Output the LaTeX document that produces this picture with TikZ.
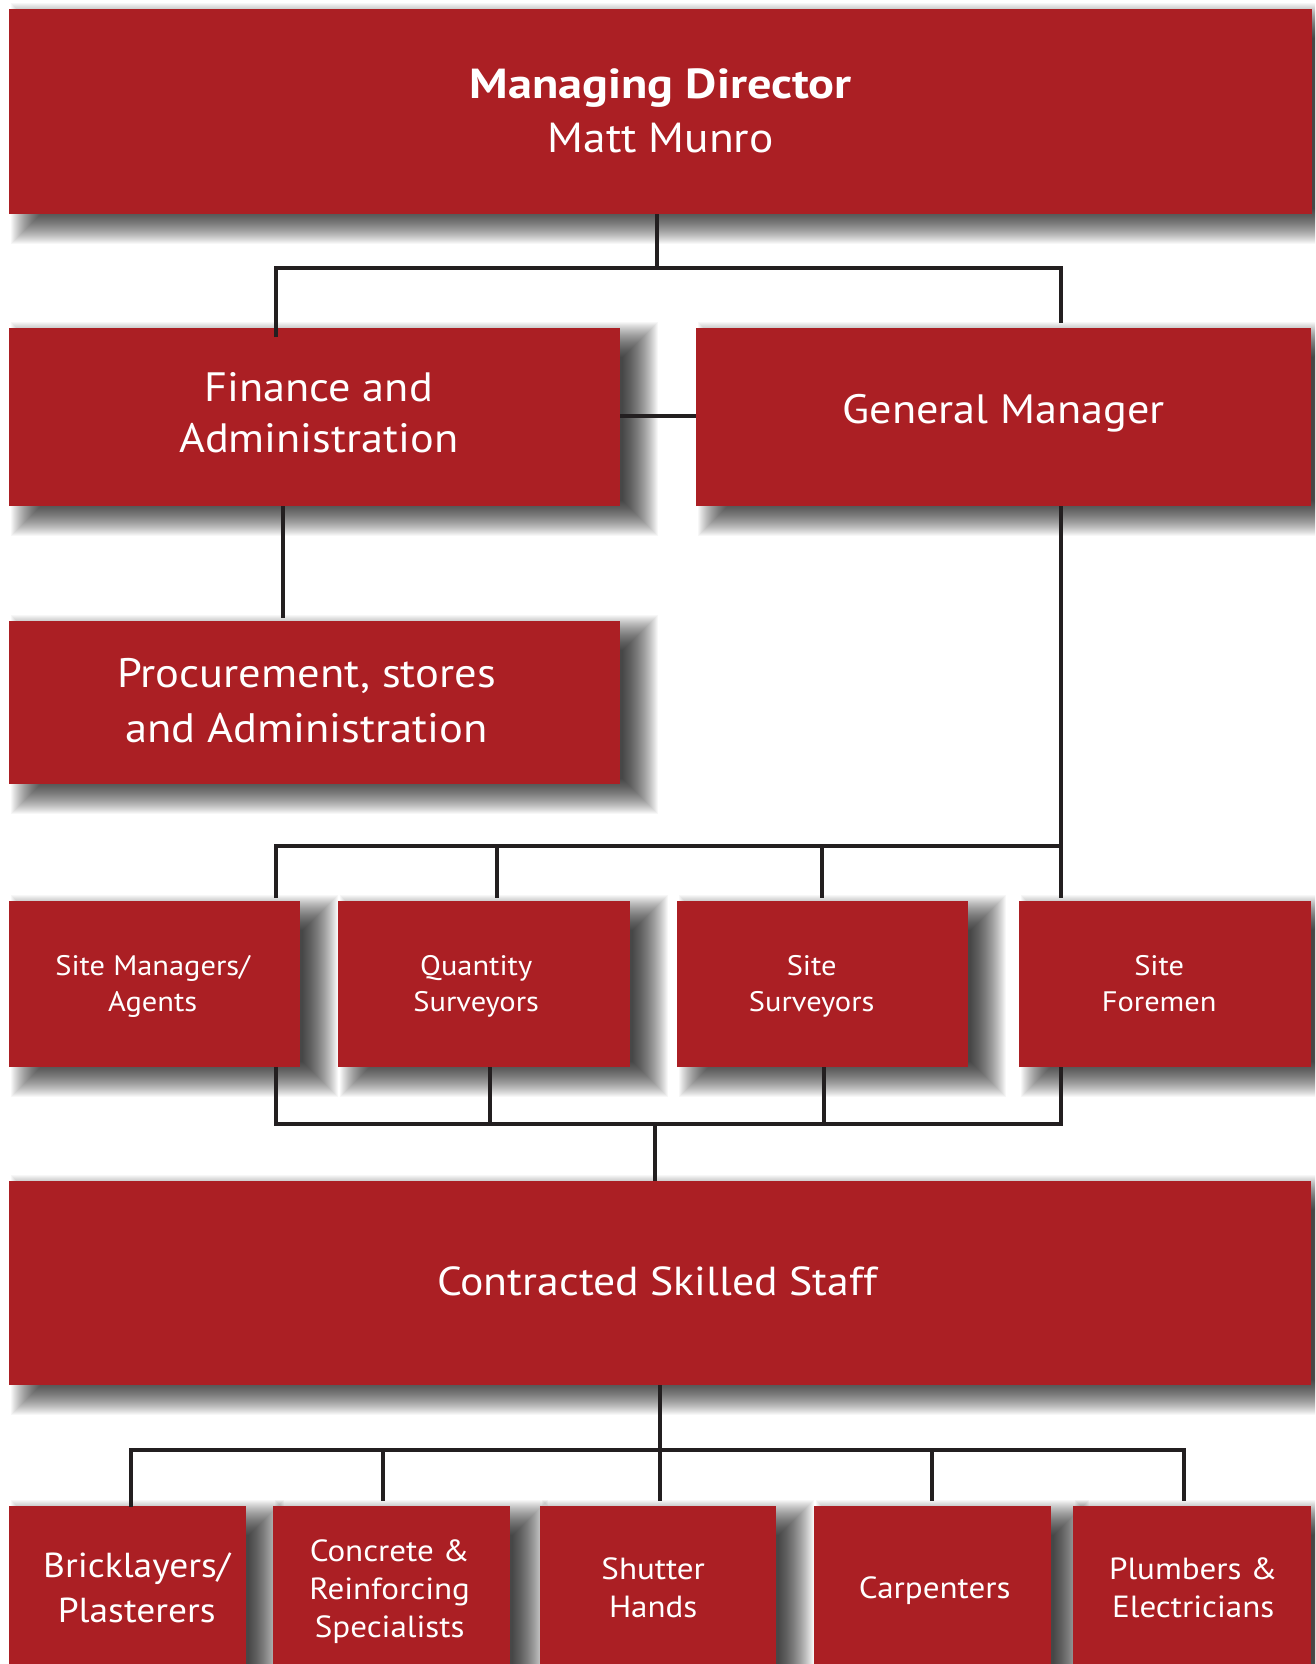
\documentclass[tikz,border=0pt]{standalone}
\usepackage{fontspec}
\setmainfont{PT Sans}[FakeStretch=1.08, BoldFeatures={FakeStretch=1.15}]
\usetikzlibrary{calc}
\pgfdeclarelayer{shadowlayer}
\pgfsetlayers{shadowlayer,main}
\definecolor{boxred}{RGB}{171,31,36}
\definecolor{linedark}{RGB}{35,31,32}
\begin{document}
\begin{tikzpicture}[x=1pt,y=-1pt,
  box/.style={fill=boxred, anchor=north west, inner sep=0pt},
  txt/.style={text=white, align=center, inner sep=0pt},
  conn/.style={draw=linedark, line width=4.6pt},
  shadowpiece/.style={fill=black, opacity=0.03},
  fMD/.style={txt, font=\fontsize{42}{54}\selectfont},
  fA/.style={txt, font=\fontsize{41}{51}\selectfont},
  fB/.style={txt, font=\fontsize{41.2}{55}\selectfont},
  fCS/.style={txt, font=\fontsize{40.5}{50}\selectfont},
  fC/.style={txt, font=\fontsize{28.2}{36}\selectfont},
  fD/.style={txt, font=\fontsize{30.6}{38}\selectfont},
  fE/.style={txt, font=\fontsize{34.7}{45}\selectfont}]
\useasboundingbox (0,0) rectangle (1315,1664);
% boxes
\node[box, minimum width=1303pt, minimum height=205pt,
  label={[fMD, yshift=-2.7pt]center:\strut\textbf{Managing Director}\\\strut Matt Munro}] (md) at (9,9) {};
\node[box, minimum width=611pt, minimum height=178pt,
  label={[fA, xshift=4pt]center:\strut Finance and\\\strut Administration}] (fin) at (9,328) {};
\node[box, minimum width=615pt, minimum height=178pt,
  label={[fA, yshift=4.2pt]center:\strut General Manager}] (gm) at (696,328) {};
\node[box, minimum width=611pt, minimum height=163pt,
  label={[fB, xshift=-8pt, yshift=-1pt]center:\strut Procurement, stores\\\strut and Administration}] (proc) at (9,621) {};
\node[box, minimum width=291pt, minimum height=166pt,
  label={[fC, xshift=-2pt, yshift=-2pt]center:\strut Site Managers/\\\strut Agents}] (sm) at (9,901) {};
\node[box, minimum width=292pt, minimum height=166pt,
  label={[fC, xshift=-8pt, yshift=-2pt]center:\strut Quantity\\\strut Surveyors}] (qs) at (338,901) {};
\node[box, minimum width=291pt, minimum height=166pt,
  label={[fC, xshift=-11pt, yshift=-2pt]center:\strut Site\\\strut Surveyors}] (ss) at (677,901) {};
\node[box, minimum width=292pt, minimum height=166pt,
  label={[fC, xshift=-6pt, yshift=-2pt]center:\strut Site\\\strut Foremen}] (sf) at (1019,901) {};
\node[box, minimum width=1302pt, minimum height=204pt,
  label={[fCS, xshift=-3pt, yshift=-2pt]center:\strut Contracted Skilled Staff}] (css) at (9,1181) {};
\node[box, minimum width=237pt, minimum height=170pt,
  label={[fE, xshift=9pt]center:\strut Bricklayers/\\\strut Plasterers}] (bl) at (9,1506) {};
\node[box, minimum width=237pt, minimum height=170pt,
  label={[fD, xshift=-2pt, yshift=-1pt]center:\strut Concrete \&\\\strut Reinforcing\\\strut Specialists}] (cr) at (273,1506) {};
\node[box, minimum width=236pt, minimum height=170pt,
  label={[fD, xshift=-5pt]center:\strut Shutter\\\strut Hands}] (sh) at (540,1506) {};
\node[box, minimum width=237pt, minimum height=170pt,
  label={[fD, xshift=2pt]center:\strut Carpenters}] (ca) at (814,1506) {};
\node[box, minimum width=238pt, minimum height=170pt,
  label={[fD, xshift=1pt]center:\strut Plumbers \&\\\strut Electricians}] (pl) at (1073,1506) {};
% soft drop shadows, drawn below the boxes
\begin{pgfonlayer}{shadowlayer}
  \fill[white] (0,0) rectangle (1315,1664);
  \clip (0,0) rectangle (1315,1664);
  \foreach \n in {md,fin,gm,proc,sm,qs,ss,sf,css,bl,cr,sh,ca,pl} {
    \foreach \k in {0,...,35} {
      \pgfmathsetmacro\e{18*(1-2*\k/36)}
      \pgfmathsetmacro\xa{20-\e}
      \pgfmathsetmacro\xb{20+\e}
      \pgfmathsetmacro\ya{-12+\e}
      \pgfmathsetmacro\yb{-12-\e}
      \fill[shadowpiece] ([xshift=\xa pt, yshift=\ya pt]\n.north west) rectangle ([xshift=\xb pt, yshift=\yb pt]\n.south east);
    }
  }
\end{pgfonlayer}
% junction coordinates
\coordinate (a0) at (657,268);
\coordinate (aL) at (276,268);
\coordinate (aR) at (1061,268);
\coordinate (fp) at (283,0);
\coordinate (fe) at (0,416);
\coordinate (mL) at (276,846);
\coordinate (mR) at (1061,846);
\coordinate (mQ) at (497,846);
\coordinate (mS) at (822,846);
\coordinate (lL) at (276,1124);
\coordinate (lR) at (1061,1124);
\coordinate (lQ) at (490,1124);
\coordinate (lS) at (824,1124);
\coordinate (l0) at (655,1124);
\coordinate (c0) at (660,1450);
\coordinate (cL) at (131,1450);
\coordinate (cR) at (1184,1450);
\coordinate (cC) at (383,1450);
\coordinate (cK) at (932,1450);
% connectors
\draw[conn] (md.south -| a0) -- (a0);
\draw[conn] ([yshift=-9pt]fin.north -| aL) -- (aL) -- (aR) -- ([yshift=5pt]gm.north -| aR);
\draw[conn] (fin.east |- fe) -- (gm.west |- fe);
\draw[conn] (fin.south -| fp) -- ([yshift=3pt]proc.north -| fp);
\draw[conn] (gm.south -| mR) -- ([yshift=3pt]sf.north -| mR);
\draw[conn] ([yshift=3pt]sm.north -| mL) -- (mL) -- (mR);
\draw[conn] (mQ) -- ([yshift=3pt]qs.north -| mQ);
\draw[conn] (mS) -- ([yshift=3pt]ss.north -| mS);
\draw[conn] (sm.south -| lL) -- (lL) -- (lR) -- (sf.south -| lR);
\draw[conn] (qs.south -| lQ) -- (lQ);
\draw[conn] (ss.south -| lS) -- (lS);
\draw[conn] (l0) -- (css.north -| l0);
\draw[conn] (css.south -| c0) -- (c0);
\draw[conn] ([yshift=-1pt]bl.north -| cL) -- (cL) -- (cR) -- ([yshift=5pt]pl.north -| cR);
\draw[conn] (cC) -- ([yshift=5pt]cr.north -| cC);
\draw[conn] (c0) -- ([yshift=5pt]sh.north -| c0);
\draw[conn] (cK) -- ([yshift=5pt]ca.north -| cK);
\end{tikzpicture}
\end{document}
